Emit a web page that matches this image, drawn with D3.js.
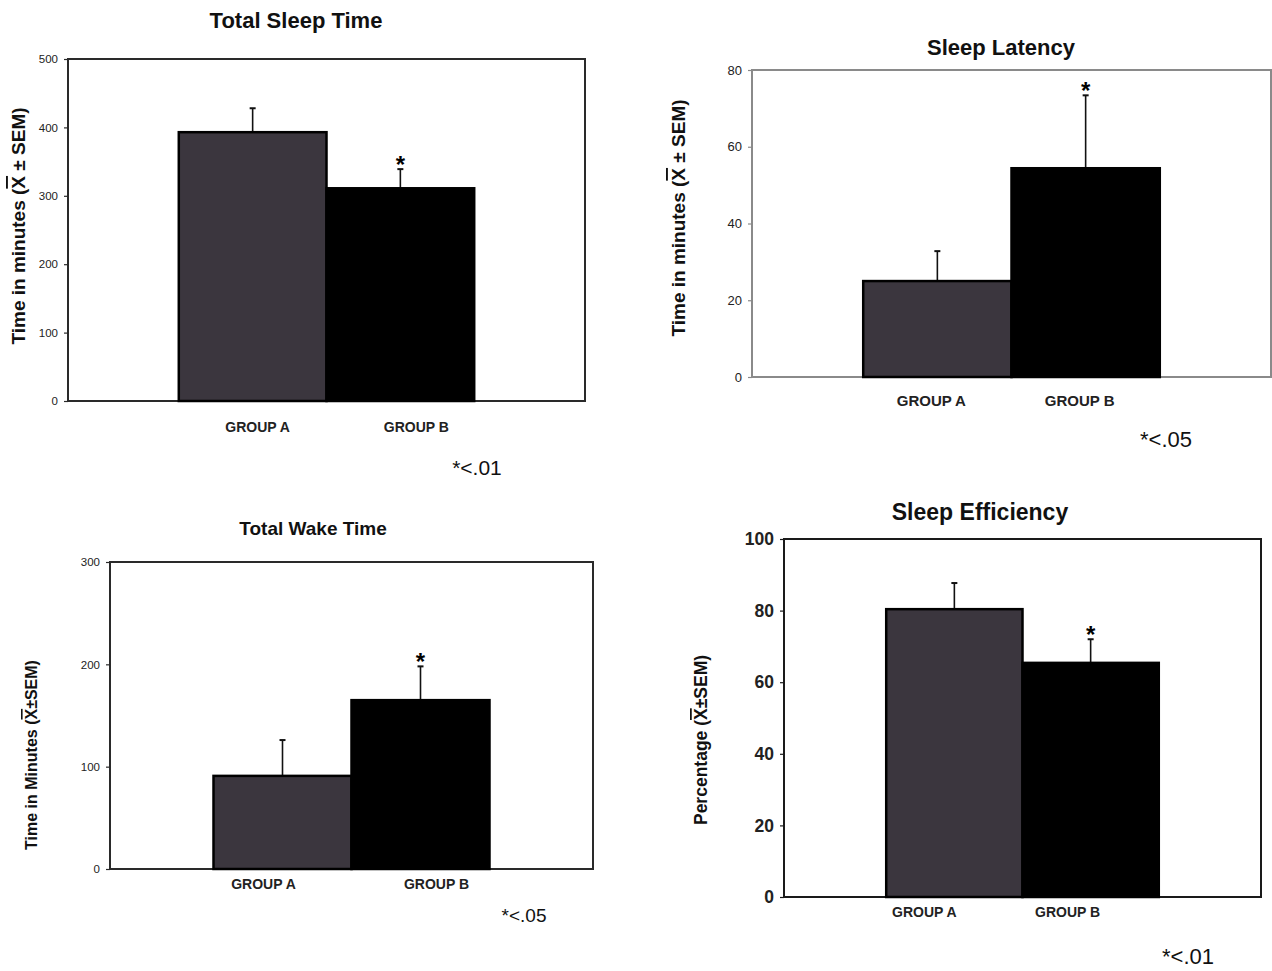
<!doctype html>
<html lang="en">
<head>
    <title>Sleep measures</title>
    <script src="https://d3js.org/d3.v7.min.js"></script>
    <style>
        body { margin: 0; background: #fff; }
        text { font-family: "Liberation Sans", Arial, sans-serif; }
    </style>
</head>
<body>
<script>
    // data
    var groups = ["GROUP A", "GROUP B"];
    var titles = ["Total Sleep Time", "Sleep Latency", "Total Wake Time", "Sleep Efficiency"];
    var yLabels = [
        ["Time in minutes (", "X", " \u00b1 SEM)"],
        ["Time in minutes (", "X", " \u00b1 SEM)"],
        ["Time in Minutes (", "X", "\u00b1SEM)"],
        ["Percentage (", "X", "\u00b1SEM)"]
    ];
    var sleepTime = [393, 311], sleepTimeSem = [35, 28];
    var latency = [25, 54.4], latencySem = [7.8, 19];
    var wakeTime = [91, 165], wakeTimeSem = [35, 33];
    var efficiency = [80.4, 65.4], efficiencySem = [7.3, 6.6];
    var yMax = [500, 80, 300, 100];
    var yTicks = [
        [0, 100, 200, 300, 400, 500],
        [0, 20, 40, 60, 80],
        [0, 100, 200, 300],
        [0, 20, 40, 60, 80, 100]
    ];
    var notes = ["*<.01", "*<.05", "*<.05", "*<.01"];
    var starred = [false, true]; // group B marked significant

    var values = [sleepTime, latency, wakeTime, efficiency];
    var sems = [sleepTimeSem, latencySem, wakeTimeSem, efficiencySem];

    // layout of each panel (pixel boxes, fonts)
    var panels = [
        { l: 68, t: 59, r: 585, b: 401, axis: "#2a2a2a", tickSize: 11.5, tickBold: false,
          titleX: 296, titleY: 28, titleSize: 22, labX: 18, labY: 226, labSize: 19,
          grpY: 432, grpSize: 14, grpDx: [5, 16], noteX: 477, noteY: 475, noteSize: 21 },
        { l: 752, t: 70, r: 1271, b: 377, axis: "#8a8a8a", tickSize: 13, tickBold: false,
          titleX: 1001, titleY: 55, titleSize: 22, labX: 678, labY: 218, labSize: 19,
          grpY: 406, grpSize: 15, grpDx: [-6, -6], noteX: 1166, noteY: 447, noteSize: 22 },
        { l: 110, t: 562, r: 593, b: 869, axis: "#2a2a2a", tickSize: 11.5, tickBold: false,
          titleX: 313, titleY: 535, titleSize: 19, labX: 31, labY: 755, labSize: 16,
          grpY: 889, grpSize: 14, grpDx: [-19, 16], noteX: 524, noteY: 922, noteSize: 19 },
        { l: 784, t: 539, r: 1261, b: 897, axis: "#1a1a1a", tickSize: 17.5, tickBold: true,
          titleX: 980, titleY: 520, titleSize: 23, labX: 701, labY: 740, labSize: 17.5,
          grpY: 917, grpSize: 14, grpDx: [-30, -23], noteX: 1188, noteY: 964, noteSize: 22 }
    ];

    var barColors = ["#3b363e", "#000000"];

    var svg = d3.select("body").append("svg")
        .attr("width", 1272)
        .attr("height", 971);

    panels.forEach(function (p, k) {
        var g = svg.append("g");

        var x = d3.scaleBand()
            .domain(groups)
            .range([p.l, p.r])
            .paddingInner(0)
            .paddingOuter(0.75);

        var y = d3.scaleLinear()
            .domain([0, yMax[k]])
            .range([p.b, p.t]);

        // frame
        g.append("rect")
            .attr("x", p.l).attr("y", p.t)
            .attr("width", p.r - p.l).attr("height", p.b - p.t)
            .attr("fill", "none")
            .attr("stroke", p.axis)
            .attr("stroke-width", 2);

        // y axis
        var yAxis = g.append("g")
            .attr("transform", "translate(" + p.l + ",0)")
            .call(d3.axisLeft(y).tickValues(yTicks[k]).tickSize(4).tickPadding(6).tickFormat(d3.format("d")));
        yAxis.select(".domain").remove();
        yAxis.selectAll("line").attr("stroke", p.axis).attr("stroke-width", 1.2);
        yAxis.selectAll("text")
            .style("font-family", "'Liberation Sans', Arial, sans-serif")
            .style("font-size", p.tickSize + "px")
            .style("font-weight", p.tickBold ? "bold" : "normal")
            .attr("fill", "#222");

        var data = groups.map(function (name, i) {
            return { name: name, v: values[k][i], s: sems[k][i], star: starred[i], i: i };
        });

        // error bars (upper only)
        g.selectAll(".err").data(data).enter().append("line")
            .attr("x1", function (d) { return x(d.name) + x.bandwidth() / 2; })
            .attr("x2", function (d) { return x(d.name) + x.bandwidth() / 2; })
            .attr("y1", function (d) { return y(d.v); })
            .attr("y2", function (d) { return y(d.v + d.s); })
            .attr("stroke", "#111").attr("stroke-width", 1.6);
        g.selectAll(".cap").data(data).enter().append("line")
            .attr("x1", function (d) { return x(d.name) + x.bandwidth() / 2 - 3; })
            .attr("x2", function (d) { return x(d.name) + x.bandwidth() / 2 + 3; })
            .attr("y1", function (d) { return y(d.v + d.s); })
            .attr("y2", function (d) { return y(d.v + d.s); })
            .attr("stroke", "#111").attr("stroke-width", 2);

        // bars
        g.selectAll(".bar").data(data).enter().append("rect")
            .attr("x", function (d) { return x(d.name); })
            .attr("y", function (d) { return y(d.v); })
            .attr("width", x.bandwidth())
            .attr("height", function (d) { return y(0) - y(d.v); })
            .attr("fill", function (d) { return barColors[d.i]; })
            .attr("stroke", "#000")
            .attr("stroke-width", 2.5);

        // significance star
        g.selectAll(".star").data(data.filter(function (d) { return d.star; })).enter().append("text")
            .attr("x", function (d) { return x(d.name) + x.bandwidth() / 2; })
            .attr("y", function (d) { return y(d.v + d.s) + 4; })
            .attr("text-anchor", "middle")
            .style("font-size", "24px")
            .style("font-weight", "bold")
            .text("*");

        // group labels
        g.selectAll(".grp").data(data).enter().append("text")
            .attr("x", function (d) { return x(d.name) + x.bandwidth() / 2 + p.grpDx[d.i]; })
            .attr("y", p.grpY)
            .attr("text-anchor", "middle")
            .style("font-size", p.grpSize + "px")
            .style("font-weight", "bold")
            .attr("fill", "#222")
            .text(function (d) { return d.name; });

        // title
        g.append("text")
            .attr("x", p.titleX).attr("y", p.titleY)
            .attr("text-anchor", "middle")
            .style("font-size", p.titleSize + "px")
            .style("font-weight", "bold")
            .attr("fill", "#111")
            .text(titles[k]);

        // y label with X-bar
        var lab = g.append("text")
            .attr("transform", "translate(" + p.labX + "," + p.labY + ") rotate(-90)")
            .attr("text-anchor", "middle")
            .attr("dominant-baseline", "central")
            .style("font-size", p.labSize + "px")
            .style("font-weight", "bold")
            .attr("fill", "#111");
        lab.append("tspan").text(yLabels[k][0]);
        lab.append("tspan").style("text-decoration", "overline").text(yLabels[k][1]);
        lab.append("tspan").text(yLabels[k][2]);

        // p-value note
        g.append("text")
            .attr("x", p.noteX).attr("y", p.noteY)
            .attr("text-anchor", "middle")
            .style("font-size", p.noteSize + "px")
            .attr("fill", "#111")
            .text(notes[k]);
    });
</script>
</body>
</html>
